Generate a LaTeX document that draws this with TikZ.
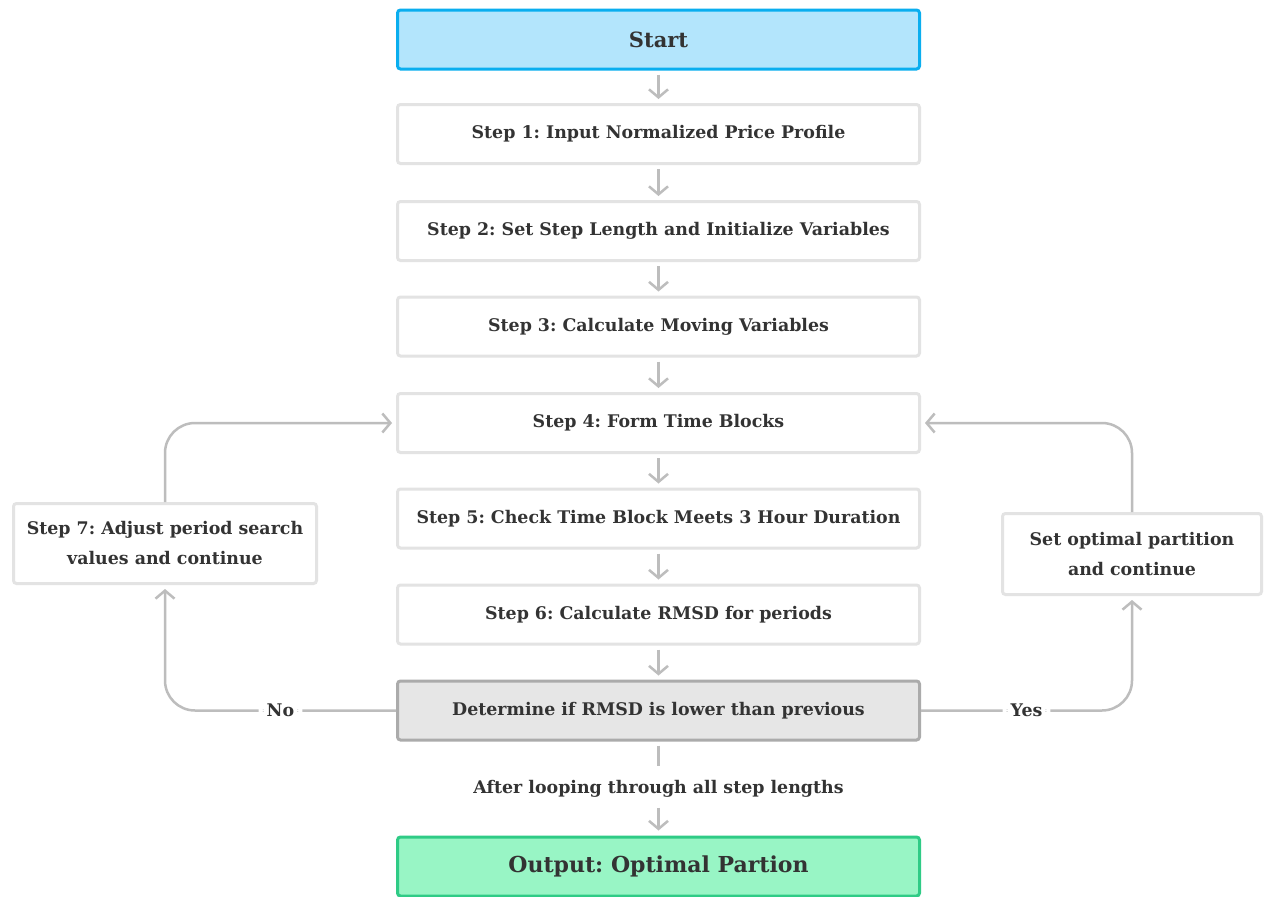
\documentclass[tikz,border=0pt]{standalone}
\usepackage{fontspec}
\setmainfont{DejaVu Serif}
\frenchspacing
\usetikzlibrary{arrows.meta}
\definecolor{startfill}{HTML}{B3E5FC}
\definecolor{startborder}{HTML}{0AAEEF}
\definecolor{boxborder}{HTML}{E3E3E3}
\definecolor{detfill}{HTML}{E6E6E6}
\definecolor{detborder}{HTML}{ABABAB}
\definecolor{outfill}{HTML}{98F5C5}
\definecolor{outborder}{HTML}{2FCB86}
\definecolor{conngray}{HTML}{BDBDBD}
\definecolor{txt}{HTML}{333333}
\tikzset{
  stepbox/.style={draw=boxborder, line width=3pt, rounded corners=3pt, fill=white,
    minimum width=522pt, minimum height=59pt, text=txt, font=\bfseries\fontsize{17.4}{30}\selectfont},
  startbox/.style={stepbox, draw=startborder, fill=startfill, font=\bfseries\fontsize{21}{25}\selectfont},
  detbox/.style={stepbox, draw=detborder, fill=detfill},
  outbox/.style={stepbox, draw=outborder, fill=outfill, font=\bfseries\fontsize{22}{26}\selectfont},
  sidebox/.style={stepbox, align=center, minimum width=0pt},
  conn/.style={draw=conngray, line width=2.5pt, -{Straight Barb[length=8pt,width=19pt,line width=2.5pt]}},
  plain/.style={draw=conngray, line width=2.5pt},
  lbl/.style={fill=white, text=txt, font=\bfseries\fontsize{17.4}{21}\selectfont, inner sep=8pt}
}
\begin{document}
\begin{tikzpicture}[x=1pt,y=-1pt]
\useasboundingbox[fill=white] (0,0) rectangle (1264,897);
\node[startbox] (start) at (658.5,39.5) {Start};
\node[stepbox] (s1) at (658.5,134) {Step 1: Input Normalized Price Profile};
\node[stepbox] (s2) at (658.5,231) {Step 2: Set Step Length and Initialize Variables};
\node[stepbox] (s3) at (658.5,326.5) {Step 3: Calculate Moving Variables};
\node[stepbox] (s4) at (658.5,423) {Step 4: Form Time Blocks};
\node[stepbox] (s5) at (658.5,518.5) {Step 5: Check Time Block Meets 3 Hour Duration};
\node[stepbox] (s6) at (658.5,614.5) {Step 6: Calculate RMSD for periods};
\node[detbox] (det) at (658.5,710.5) {Determine if RMSD is lower than previous};
\node[outbox] (out) at (658.5,866.5) {Output: Optimal Partion};
\node[sidebox, minimum width=303pt, minimum height=80pt] (s7) at (165,543.5) {Step 7: Adjust period search\\values and continue};
\node[sidebox, minimum width=259pt, minimum height=81pt] (opt) at (1132,554) {Set optimal partition\\and continue};
\node[text=txt, font=\bfseries\fontsize{17.4}{21}\selectfont, inner sep=0pt] (after) at (658.5,789) {After looping through all step lengths};

\foreach \a/\b in {start/s1,s1/s2,s2/s3,s3/s4,s4/s5,s5/s6,s6/det}
  \draw[conn, shorten <=4pt, shorten >=4pt] (\a.south) -- (\b.north);

\draw[plain, shorten <=4pt] (det.south) -- ([yshift=14pt]after.north);
\draw[conn, shorten <=10pt, shorten >=5pt] (after.south) -- (out.north);

\draw[conn, rounded corners=30pt, shorten >=4pt] (det.west) -- node[lbl] {No} (s7.south |- det.west) -- (s7.south);
\draw[conn, rounded corners=30pt, shorten >=4pt] (s7.north) -- (s7.north |- s4.west) -- (s4.west);
\draw[conn, rounded corners=30pt, shorten >=4pt] (det.east) -- node[lbl] {Yes} (opt.south |- det.east) -- (opt.south);
\draw[conn, rounded corners=30pt, shorten >=4pt] (opt.north) -- (opt.north |- s4.east) -- (s4.east);
\end{tikzpicture}
\end{document}
